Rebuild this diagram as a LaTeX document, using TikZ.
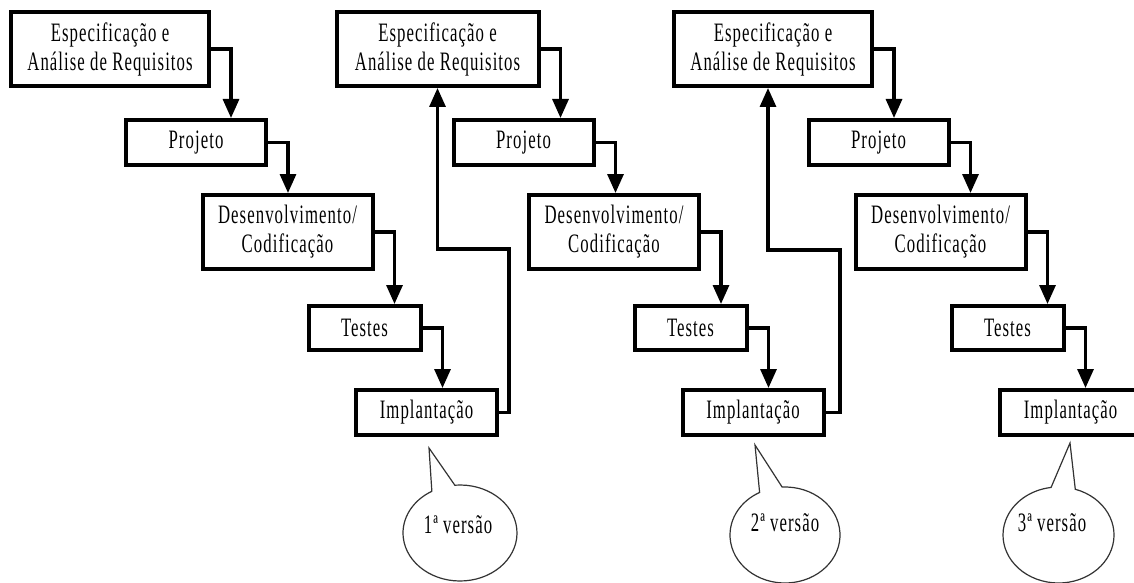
\documentclass[tikz,border=0pt]{standalone}
\usepackage{fontspec}
\setmainfont{Liberation Serif}[FakeStretch=0.63,LetterSpace=4]
\usetikzlibrary{arrows.meta,calc}

\begin{document}
\begin{tikzpicture}[x=0.5pt,y=0.5pt,
  stage/.style={draw,line width=2pt,fill=white,inner sep=0pt,align=center,
    font=\fontsize{13.3}{14.5}\selectfont},
  spec/.style={stage,minimum width=99pt,minimum height=37pt},
  proj/.style={stage,minimum width=70pt,minimum height=22.5pt},
  dev/.style={stage,minimum width=85pt,minimum height=37pt},
  test/.style={stage,minimum width=56pt,minimum height=22pt},
  impl/.style={stage,minimum width=70.5pt,minimum height=22.5pt},
  flow/.style={line width=1.6pt,-{Triangle[width=8pt,length=9.5pt]}},
  bubble/.style={draw=black!80,line width=0.6pt,fill=white},
  vers/.style={font=\fontsize{13.3}{14.5}\selectfont,inner sep=0pt}
]
\useasboundingbox (0,0) rectangle (1134,-583);
\clip (0,0) rectangle (1134,-583);

% ---------- speech bubbles for the releases ----------
\coordinate (c1) at (460,-533);
\coordinate (tip1) at (429,-448);
\draw[bubble] ($(c1)+(119.6:57 and 48)$) -- (tip1) -- ($(c1)+(95.2:57 and 48)$)
  arc[start angle=95.2, end angle=-240.4, x radius=57, y radius=48] -- cycle;
\node[vers] (v1) at (458,-525) {1ª versão};

\coordinate (c2) at (785,-535);
\coordinate (tip2) at (755,-445);
\draw[bubble] ($(c2)+(117.5:55 and 48)$) -- (tip2) -- ($(c2)+(93:55 and 48)$)
  arc[start angle=93, end angle=-242.5, x radius=55, y radius=48] -- cycle;
\node[vers] (v2) at (785,-523) {2ª versão};

\coordinate (c3) at (1058.5,-535);
\coordinate (tip3) at (1070,-443);
\draw[bubble] ($(c3)+(97.7:55.5 and 48)$) -- (tip3) -- ($(c3)+(72.4:55.5 and 48)$)
  arc[start angle=72.4, end angle=-262.3, x radius=55.5, y radius=48] -- cycle;
\node[vers] (v3) at (1052,-523) {3ª versão};

% ---------- first cycle ----------
\node[spec] (S1) at (110,-49) {Especificação e\\Análise de Requisitos};
\node[proj] (P1) at (196,-142.5) {Projeto};
\node[dev]  (D1) at (287.5,-232) {Desenvolvimento/\\Codificação};
\node[test] (T1) at (364.5,-328) {Testes};
\node[impl] (I1) at (426.5,-412.5) {Implantação};

% ---------- second cycle ----------
\node[spec,minimum width=101pt] (S2) at (437.5,-49) {Especificação e\\Análise de Requisitos};
\node[proj] (P2) at (523.5,-142.5) {Projeto};
\node[dev]  (D2) at (614,-232) {Desenvolvimento/\\Codificação};
\node[test] (T2) at (690.5,-328) {Testes};
\node[impl] (I2) at (753,-412.5) {Implantação};

% ---------- third cycle ----------
\node[spec] (S3) at (773,-49) {Especificação e\\Análise de Requisitos};
\node[proj] (P3) at (878.5,-142.5) {Projeto};
\node[dev]  (D3) at (940.5,-232) {Desenvolvimento/\\Codificação};
\node[test] (T3) at (1007.5,-328) {Testes};
\node[impl] (I3) at (1070.5,-412.5) {Implantação};

% ---------- step-down arrows inside each cycle ----------
\foreach \g in {1,2,3}{
  \foreach \a/\b in {S/P,P/D,D/T,T/I}{
    \coordinate (k) at ([xshift=10pt]\a\g.east);
    \draw[flow] (\a\g.east) -- (k) -- (k |- \b\g.north);
  }
}

% ---------- feedback from one release to the next cycle ----------
\coordinate (r1) at (509,-249);
\draw[flow] (I1.east) -| (r1) -- (r1 -| S2.south) -- (S2.south);

\coordinate (r2) at (840,-250);
\coordinate (s3in) at ([xshift=-2.5pt]S3.south);
\draw[flow] (I2.east) -| (r2) -- (r2 -| s3in) -- (s3in);
\end{tikzpicture}
\end{document}
